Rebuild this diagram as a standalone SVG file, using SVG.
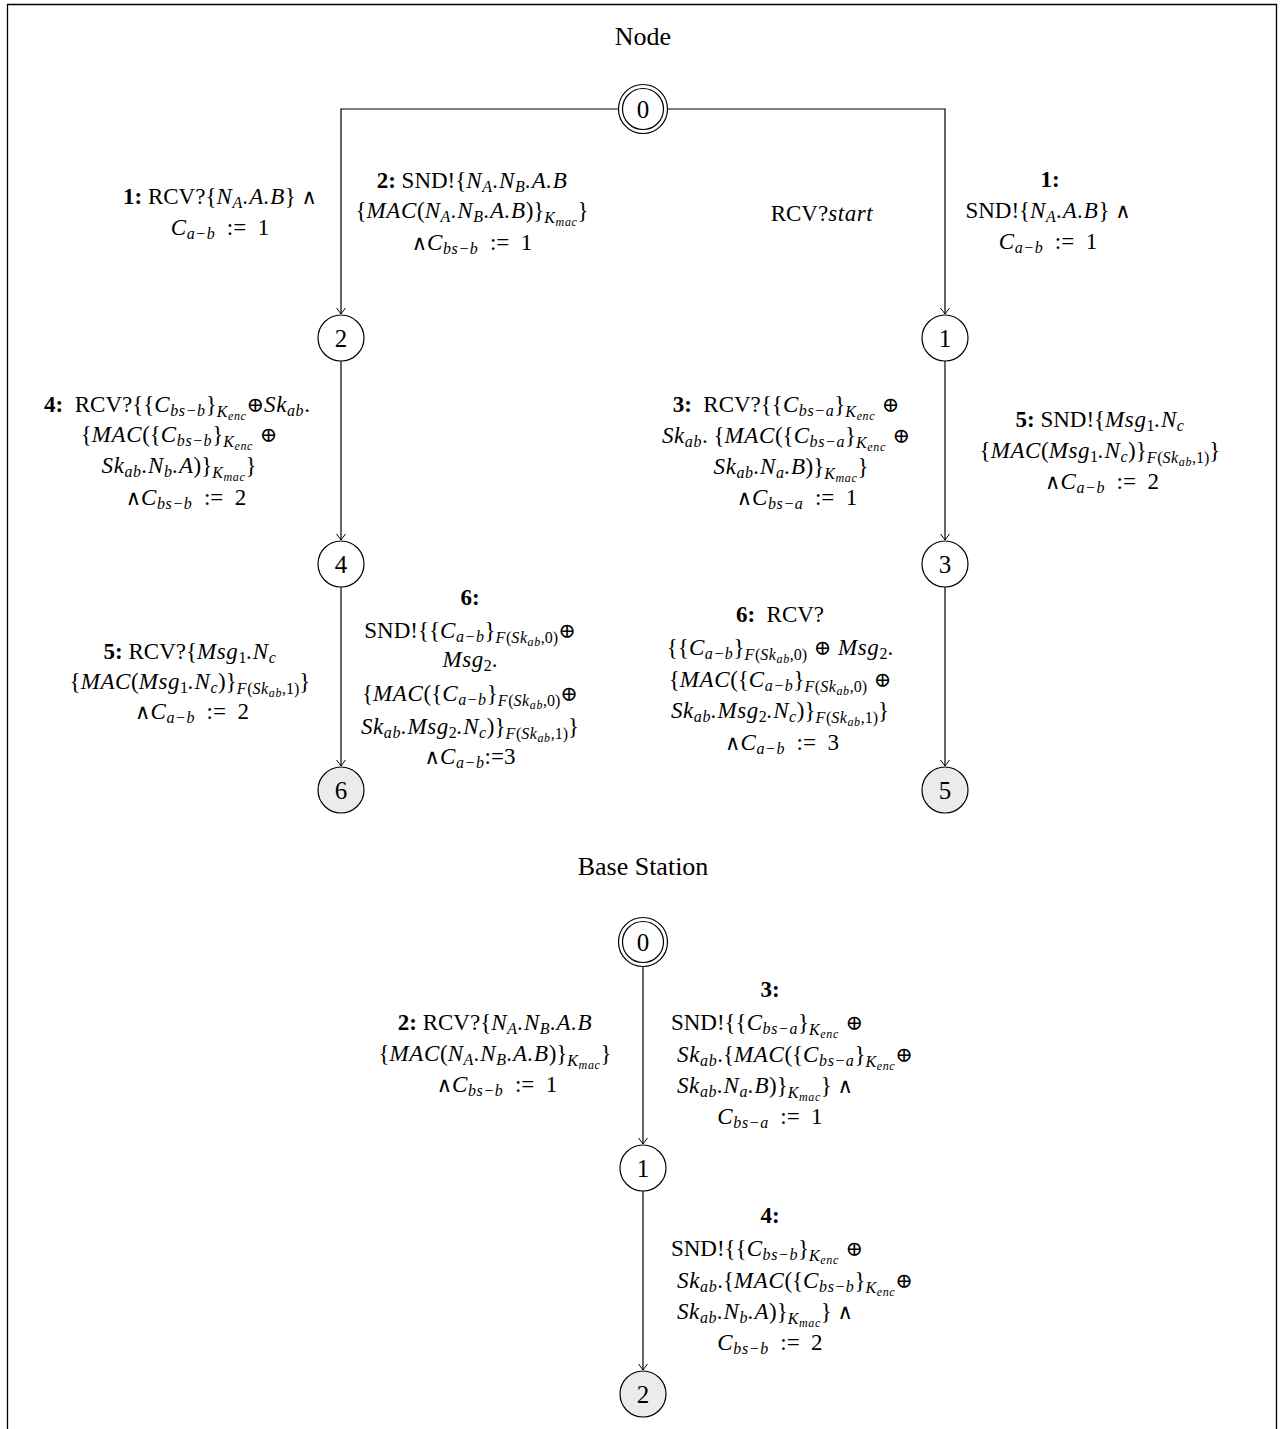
<svg xmlns="http://www.w3.org/2000/svg" width="1281" height="1429" viewBox="0 0 1281 1429">
<defs>
<marker id="arr" markerWidth="12" markerHeight="12" refX="0" refY="0" viewBox="-8 -6 10 12" orient="auto" markerUnits="userSpaceOnUse">
<path d="M-6,-4.5 Q-1.5,-1 0,0 Q-1.5,1 -6,4.5" fill="none" stroke="#000" stroke-width="1"/>
</marker>
</defs>
<style>
text{font-family:"Liberation Serif","Times New Roman",serif;font-size:23px;fill:#000;text-anchor:middle}
.t{font-size:26px}
.d{font-size:25px}
.i{font-style:italic;letter-spacing:0.6px}
.b{font-weight:bold}
.s{font-size:16px}
.ss{font-size:12px}
.o{font-family:"DejaVu Serif",serif;font-size:21px}
.n{fill:#fff;stroke:#000;stroke-width:1.2}
.f{fill:#ebebeb;stroke:#000;stroke-width:1.2}
.e{fill:none;stroke:#000;stroke-width:1.2;marker-end:url(#arr)}
</style>
<rect width="1281" height="1429" fill="#fff"/>
<path d="M7.5,1429 V4.5 H1276.5 V1429" fill="none" stroke="#000" stroke-width="1.3"/>
<text class="t" x="643" y="45">Node</text>
<text class="t" x="643" y="875">Base Station</text>

<g id="connectors">
<path class="e" d="M619,109 H341 V314"/>
<path class="e" d="M667,109 H945 V314"/>
<path class="e" d="M341,361 V540"/>
<path class="e" d="M341,587 V766"/>
<path class="e" d="M945,361 V540"/>
<path class="e" d="M945,587 V766"/>
<path class="e" d="M643,966 V1144"/>
<path class="e" d="M643,1191 V1370"/>
</g>

<g id="node-0"><circle class="n" cx="643" cy="109" r="24.5"/><circle class="n" cx="643" cy="109" r="20.5"/><text class="d" x="643" y="118">0</text></g>
<g id="node-2"><circle class="n" cx="341" cy="338" r="23"/><text class="d" x="341" y="347">2</text></g>
<g id="node-1"><circle class="n" cx="945" cy="338" r="23"/><text class="d" x="945" y="347">1</text></g>
<g id="node-4"><circle class="n" cx="341" cy="564" r="23"/><text class="d" x="341" y="573">4</text></g>
<g id="node-3"><circle class="n" cx="945" cy="564" r="23"/><text class="d" x="945" y="573">3</text></g>
<g id="node-6"><circle class="f" cx="341" cy="790" r="23"/><text class="d" x="341" y="799">6</text></g>
<g id="node-5"><circle class="f" cx="945" cy="790" r="23"/><text class="d" x="945" y="799">5</text></g>
<g id="bs-0"><circle class="n" cx="643" cy="942" r="24.5"/><circle class="n" cx="643" cy="942" r="20.5"/><text class="d" x="643" y="951">0</text></g>
<g id="bs-1"><circle class="n" cx="643" cy="1168" r="23"/><text class="d" x="643" y="1177">1</text></g>
<g id="bs-2"><circle class="f" cx="643" cy="1394" r="23"/><text class="d" x="643" y="1403">2</text></g>

<g id="labels">
<!-- 0 -> 2 -->
<text x="220" y="204"><tspan class="b">1:</tspan> RCV?{<tspan class="i">N</tspan><tspan class="s i" dy="4">A</tspan><tspan class="i" dy="-4">.A.B</tspan>} <tspan class="o">∧</tspan></text>
<text x="220" y="235"><tspan class="i">C</tspan><tspan class="s i" dy="4">a−b</tspan><tspan dy="-4">&#160; := &#160;1</tspan></text>

<text x="472" y="188"><tspan class="b">2:</tspan> SND!{<tspan class="i">N</tspan><tspan class="s i" dy="4">A</tspan><tspan class="i" dy="-4">.N</tspan><tspan class="s i" dy="4">B</tspan><tspan class="i" dy="-4">.A.B</tspan></text>
<text x="472" y="218">{<tspan class="i">MAC</tspan>(<tspan class="i">N</tspan><tspan class="s i" dy="4">A</tspan><tspan class="i" dy="-4">.N</tspan><tspan class="s i" dy="4">B</tspan><tspan class="i" dy="-4">.A.B</tspan>)}<tspan class="s i" dy="5">K</tspan><tspan class="ss i" dy="3">mac</tspan><tspan dy="-8">}</tspan></text>
<text x="472" y="250"><tspan class="o">∧</tspan><tspan class="i">C</tspan><tspan class="s i" dy="4">bs−b</tspan><tspan dy="-4">&#160; := &#160;1</tspan></text>

<!-- 0 -> 1 -->
<text x="822" y="221">RCV?<tspan class="i">start</tspan></text>
<text x="1050" y="187" class="b">1:</text>
<text x="1048" y="218">SND!{<tspan class="i">N</tspan><tspan class="s i" dy="4">A</tspan><tspan class="i" dy="-4">.A.B</tspan>} <tspan class="o">∧</tspan></text>
<text x="1048" y="249"><tspan class="i">C</tspan><tspan class="s i" dy="4">a−b</tspan><tspan dy="-4">&#160; := &#160;1</tspan></text>

<!-- 2 -> 4 -->
<text x="177" y="412"><tspan class="b">4:</tspan>&#160; RCV?{{<tspan class="i">C</tspan><tspan class="s i" dy="4">bs−b</tspan><tspan dy="-4">}</tspan><tspan class="s i" dy="5">K</tspan><tspan class="ss i" dy="3">enc</tspan><tspan dy="-8" class="o">⊕</tspan><tspan class="i">Sk</tspan><tspan class="s i" dy="4">ab</tspan><tspan dy="-4">.</tspan></text>
<text x="179" y="442">{<tspan class="i">MAC</tspan>({<tspan class="i">C</tspan><tspan class="s i" dy="4">bs−b</tspan><tspan dy="-4">}</tspan><tspan class="s i" dy="5">K</tspan><tspan class="ss i" dy="3">enc</tspan><tspan dy="-8" class="o"> ⊕</tspan></text>
<text x="179" y="473"><tspan class="i">Sk</tspan><tspan class="s i" dy="4">ab</tspan><tspan class="i" dy="-4">.N</tspan><tspan class="s i" dy="4">b</tspan><tspan class="i" dy="-4">.A</tspan>)}<tspan class="s i" dy="5">K</tspan><tspan class="ss i" dy="3">mac</tspan><tspan dy="-8">}</tspan></text>
<text x="186" y="505"><tspan class="o">∧</tspan><tspan class="i">C</tspan><tspan class="s i" dy="4">bs−b</tspan><tspan dy="-4">&#160; := &#160;2</tspan></text>

<!-- 1 -> 3 -->
<text x="786" y="412"><tspan class="b">3:</tspan>&#160; RCV?{{<tspan class="i">C</tspan><tspan class="s i" dy="4">bs−a</tspan><tspan dy="-4">}</tspan><tspan class="s i" dy="5">K</tspan><tspan class="ss i" dy="3">enc</tspan><tspan dy="-8" class="o"> ⊕</tspan></text>
<text x="786" y="443"><tspan class="i">Sk</tspan><tspan class="s i" dy="4">ab</tspan><tspan dy="-4">. {</tspan><tspan class="i">MAC</tspan>({<tspan class="i">C</tspan><tspan class="s i" dy="4">bs−a</tspan><tspan dy="-4">}</tspan><tspan class="s i" dy="5">K</tspan><tspan class="ss i" dy="3">enc</tspan><tspan dy="-8" class="o"> ⊕</tspan></text>
<text x="791" y="474"><tspan class="i">Sk</tspan><tspan class="s i" dy="4">ab</tspan><tspan class="i" dy="-4">.N</tspan><tspan class="s i" dy="4">a</tspan><tspan class="i" dy="-4">.B</tspan>)}<tspan class="s i" dy="5">K</tspan><tspan class="ss i" dy="3">mac</tspan><tspan dy="-8">}</tspan></text>
<text x="797" y="505"><tspan class="o">∧</tspan><tspan class="i">C</tspan><tspan class="s i" dy="4">bs−a</tspan><tspan dy="-4">&#160; := &#160;1</tspan></text>

<!-- 5 SND -->
<text x="1100" y="427"><tspan class="b">5:</tspan> SND!{<tspan class="i">Msg</tspan><tspan class="s" dy="4">1</tspan><tspan class="i" dy="-4">.N</tspan><tspan class="s i" dy="4">c</tspan></text>
<text x="1100" y="458">{<tspan class="i">MAC</tspan>(<tspan class="i">Msg</tspan><tspan class="s" dy="4">1</tspan><tspan class="i" dy="-4">.N</tspan><tspan class="s i" dy="4">c</tspan><tspan dy="-4">)}</tspan><tspan class="s i" dy="5">F</tspan><tspan class="s">(</tspan><tspan class="s i">Sk</tspan><tspan class="ss i" dy="3">ab</tspan><tspan class="s" dy="-3">,1)</tspan><tspan dy="-5">}</tspan></text>
<text x="1102" y="489"><tspan class="o">∧</tspan><tspan class="i">C</tspan><tspan class="s i" dy="4">a−b</tspan><tspan dy="-4">&#160; := &#160;2</tspan></text>

<!-- 5 RCV -->
<text x="190" y="659"><tspan class="b">5:</tspan> RCV?{<tspan class="i">Msg</tspan><tspan class="s" dy="4">1</tspan><tspan class="i" dy="-4">.N</tspan><tspan class="s i" dy="4">c</tspan></text>
<text x="190" y="689">{<tspan class="i">MAC</tspan>(<tspan class="i">Msg</tspan><tspan class="s" dy="4">1</tspan><tspan class="i" dy="-4">.N</tspan><tspan class="s i" dy="4">c</tspan><tspan dy="-4">)}</tspan><tspan class="s i" dy="5">F</tspan><tspan class="s">(</tspan><tspan class="s i">Sk</tspan><tspan class="ss i" dy="3">ab</tspan><tspan class="s" dy="-3">,1)</tspan><tspan dy="-5">}</tspan></text>
<text x="192" y="719"><tspan class="o">∧</tspan><tspan class="i">C</tspan><tspan class="s i" dy="4">a−b</tspan><tspan dy="-4">&#160; := &#160;2</tspan></text>

<!-- 6 SND -->
<text x="470" y="605" class="b">6:</text>
<text x="470" y="638">SND!{{<tspan class="i">C</tspan><tspan class="s i" dy="4">a−b</tspan><tspan dy="-4">}</tspan><tspan class="s i" dy="5">F</tspan><tspan class="s">(</tspan><tspan class="s i">Sk</tspan><tspan class="ss i" dy="3">ab</tspan><tspan class="s" dy="-3">,0)</tspan><tspan dy="-5" class="o">⊕</tspan></text>
<text x="470" y="667"><tspan class="i">Msg</tspan><tspan class="s" dy="4">2</tspan><tspan dy="-4">.</tspan></text>
<text x="470" y="701">{<tspan class="i">MAC</tspan>({<tspan class="i">C</tspan><tspan class="s i" dy="4">a−b</tspan><tspan dy="-4">}</tspan><tspan class="s i" dy="5">F</tspan><tspan class="s">(</tspan><tspan class="s i">Sk</tspan><tspan class="ss i" dy="3">ab</tspan><tspan class="s" dy="-3">,0)</tspan><tspan dy="-5" class="o">⊕</tspan></text>
<text x="470" y="734"><tspan class="i">Sk</tspan><tspan class="s i" dy="4">ab</tspan><tspan class="i" dy="-4">.Msg</tspan><tspan class="s" dy="4">2</tspan><tspan class="i" dy="-4">.N</tspan><tspan class="s i" dy="4">c</tspan><tspan dy="-4">)}</tspan><tspan class="s i" dy="5">F</tspan><tspan class="s">(</tspan><tspan class="s i">Sk</tspan><tspan class="ss i" dy="3">ab</tspan><tspan class="s" dy="-3">,1)</tspan><tspan dy="-5">}</tspan></text>
<text x="470" y="764"><tspan class="o">∧</tspan><tspan class="i">C</tspan><tspan class="s i" dy="4">a−b</tspan><tspan dy="-4">:=3</tspan></text>

<!-- 6 RCV -->
<text x="780" y="622"><tspan class="b">6:</tspan>&#160; RCV?</text>
<text x="780" y="655">{{<tspan class="i">C</tspan><tspan class="s i" dy="4">a−b</tspan><tspan dy="-4">}</tspan><tspan class="s i" dy="5">F</tspan><tspan class="s">(</tspan><tspan class="s i">Sk</tspan><tspan class="ss i" dy="3">ab</tspan><tspan class="s" dy="-3">,0)</tspan><tspan dy="-5" class="o"> ⊕ </tspan><tspan class="i">Msg</tspan><tspan class="s" dy="4">2</tspan><tspan dy="-4">.</tspan></text>
<text x="780" y="687">{<tspan class="i">MAC</tspan>({<tspan class="i">C</tspan><tspan class="s i" dy="4">a−b</tspan><tspan dy="-4">}</tspan><tspan class="s i" dy="5">F</tspan><tspan class="s">(</tspan><tspan class="s i">Sk</tspan><tspan class="ss i" dy="3">ab</tspan><tspan class="s" dy="-3">,0)</tspan><tspan dy="-5" class="o"> ⊕</tspan></text>
<text x="780" y="718"><tspan class="i">Sk</tspan><tspan class="s i" dy="4">ab</tspan><tspan class="i" dy="-4">.Msg</tspan><tspan class="s" dy="4">2</tspan><tspan class="i" dy="-4">.N</tspan><tspan class="s i" dy="4">c</tspan><tspan dy="-4">)}</tspan><tspan class="s i" dy="5">F</tspan><tspan class="s">(</tspan><tspan class="s i">Sk</tspan><tspan class="ss i" dy="3">ab</tspan><tspan class="s" dy="-3">,1)</tspan><tspan dy="-5">}</tspan></text>
<text x="782" y="750"><tspan class="o">∧</tspan><tspan class="i">C</tspan><tspan class="s i" dy="4">a−b</tspan><tspan dy="-4">&#160; := &#160;3</tspan></text>

<!-- BS 0 -> 1 -->
<text x="495" y="1030"><tspan class="b">2:</tspan> RCV?{<tspan class="i">N</tspan><tspan class="s i" dy="4">A</tspan><tspan class="i" dy="-4">.N</tspan><tspan class="s i" dy="4">B</tspan><tspan class="i" dy="-4">.A.B</tspan></text>
<text x="495" y="1061">{<tspan class="i">MAC</tspan>(<tspan class="i">N</tspan><tspan class="s i" dy="4">A</tspan><tspan class="i" dy="-4">.N</tspan><tspan class="s i" dy="4">B</tspan><tspan class="i" dy="-4">.A.B</tspan>)}<tspan class="s i" dy="5">K</tspan><tspan class="ss i" dy="3">mac</tspan><tspan dy="-8">}</tspan></text>
<text x="497" y="1092"><tspan class="o">∧</tspan><tspan class="i">C</tspan><tspan class="s i" dy="4">bs−b</tspan><tspan dy="-4">&#160; := &#160;1</tspan></text>

<text x="770" y="997" class="b">3:</text>
<text x="767" y="1030">SND!{{<tspan class="i">C</tspan><tspan class="s i" dy="4">bs−a</tspan><tspan dy="-4">}</tspan><tspan class="s i" dy="5">K</tspan><tspan class="ss i" dy="3">enc</tspan><tspan dy="-8" class="o"> ⊕</tspan></text>
<text x="795" y="1062"><tspan class="i">Sk</tspan><tspan class="s i" dy="4">ab</tspan><tspan dy="-4">.{</tspan><tspan class="i">MAC</tspan>({<tspan class="i">C</tspan><tspan class="s i" dy="4">bs−a</tspan><tspan dy="-4">}</tspan><tspan class="s i" dy="5">K</tspan><tspan class="ss i" dy="3">enc</tspan><tspan dy="-8" class="o">⊕</tspan></text>
<text x="765" y="1093"><tspan class="i">Sk</tspan><tspan class="s i" dy="4">ab</tspan><tspan class="i" dy="-4">.N</tspan><tspan class="s i" dy="4">a</tspan><tspan class="i" dy="-4">.B</tspan>)}<tspan class="s i" dy="5">K</tspan><tspan class="ss i" dy="3">mac</tspan><tspan dy="-8">} </tspan><tspan class="o">∧</tspan></text>
<text x="770" y="1124"><tspan class="i">C</tspan><tspan class="s i" dy="4">bs−a</tspan><tspan dy="-4">&#160; := &#160;1</tspan></text>

<!-- BS 1 -> 2 -->
<text x="770" y="1223" class="b">4:</text>
<text x="767" y="1256">SND!{{<tspan class="i">C</tspan><tspan class="s i" dy="4">bs−b</tspan><tspan dy="-4">}</tspan><tspan class="s i" dy="5">K</tspan><tspan class="ss i" dy="3">enc</tspan><tspan dy="-8" class="o"> ⊕</tspan></text>
<text x="795" y="1288"><tspan class="i">Sk</tspan><tspan class="s i" dy="4">ab</tspan><tspan dy="-4">.{</tspan><tspan class="i">MAC</tspan>({<tspan class="i">C</tspan><tspan class="s i" dy="4">bs−b</tspan><tspan dy="-4">}</tspan><tspan class="s i" dy="5">K</tspan><tspan class="ss i" dy="3">enc</tspan><tspan dy="-8" class="o">⊕</tspan></text>
<text x="765" y="1319"><tspan class="i">Sk</tspan><tspan class="s i" dy="4">ab</tspan><tspan class="i" dy="-4">.N</tspan><tspan class="s i" dy="4">b</tspan><tspan class="i" dy="-4">.A</tspan>)}<tspan class="s i" dy="5">K</tspan><tspan class="ss i" dy="3">mac</tspan><tspan dy="-8">} </tspan><tspan class="o">∧</tspan></text>
<text x="770" y="1350"><tspan class="i">C</tspan><tspan class="s i" dy="4">bs−b</tspan><tspan dy="-4">&#160; := &#160;2</tspan></text>
</g>
</svg>
